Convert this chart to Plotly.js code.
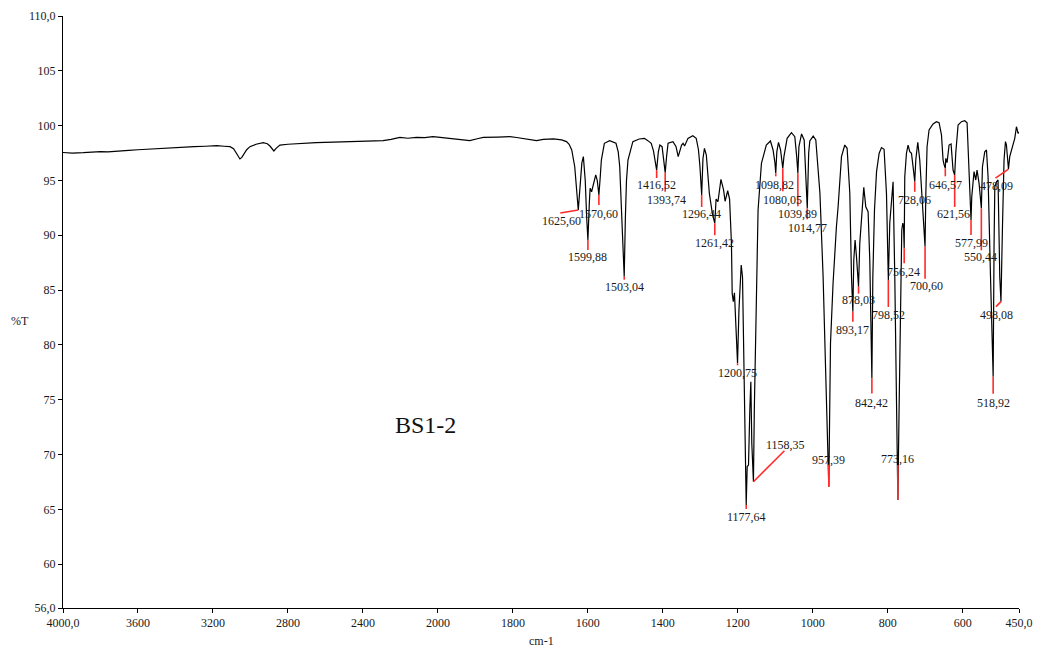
<!DOCTYPE html>
<html><head><meta charset="utf-8">
<script src="https://cdn.plot.ly/plotly-3.0.1.min.js"></script>
<style>html,body{margin:0;padding:0;background:#fff;} #chart{width:1044px;height:655px;}</style>
</head><body><div id="chart"></div>
<script>
// ---- spectrum data (wavenumber cm-1, %T) ----
const wavenumber = [
4000,3950,3892,3850,3800,3760,3714,3650,3600,3536,3480,3420,3358,3300,3240,3180,3140,3109,3090,3074,3064,3056,3046,3038,3020,3003,
2970,2932,2910,2896,2885,2875,2862,2843,2800,2736,2650,2558,2470,2380,2292,2250,2203,2160,2115,2070,2027,2000,
1968,1940,1915,1895,1879,1840,1808,1790,1772,1750,1737,1719,1701,1692,1670,1657,1650,1643,1635,1630,1625.6,1620,1616,1612,1607,1603,1599.88,
1596,1594,1590,1584,1579,1575,1570.6,1567,1564,1556,1542,1525,1519,1515,1510,1506,1503.04,1500,1497,1493,1480,1463,1449,1440,1431,1425,1420,1416.52,
1412,1408,1402,1398,1393.74,1390,1386,1373,1365,1359,1354,1350,1346,1342,1333,1320,1311,1305,1301,1296.44,1293,1289,1284,1276,1268,1264,1261.42,
1258,1253,1245,1238,1234,1227,1222,1217,1215,1212,1209,1205,1200.75,1197,1191,1187.5,1184,1180,1177.64,1175,1171.5,1168,1165.3,1162.7,1158.35,
1156,1152,1146,1137,1124,1113,1106,1101,1098.82,1096,1091.5,1086,1082.5,1080.05,1077,1068.5,1057,1048,1043,1039.89,1037,1030,1023,1017,1014.77,
1011,1008,999,992,981,972.5,965.3,957.39,952.8,946,937,932.5,923.5,914.7,908.5,901.3,896.8,893.17,890.7,887.2,883.5,878.03,874.7,870,864,858.7,
852.5,848,842.42,839.9,835.5,830,823,816.8,809.9,803.5,798.52,794.7,790.1,785.9,781.3,776.8,773.16,769.9,765.3,762.7,760,758,756.24,754.7,750.2,
745.9,741.3,736.8,731,728.06,725.3,720,714.7,709.3,705.9,702.5,700.6,698.5,695.2,689.9,679.2,670.2,663.2,656.8,652.5,649.5,646.57,645.3,641.9,
636.5,631.2,625.9,621.56,618.7,612.5,603.5,594.7,588.5,584,580.5,577.99,576,569.9,565.3,561.9,556.5,552.8,550.44,547.5,541.3,536.8,532.5,526,
521.9,518.92,516.5,514.5,510.1,505.9,501.3,498.08,494.1,489.9,486.1,483.5,480.5,478.09,474.7,470.1,465.9,461.3,456.8,452.5,450
];
const transmittance = [
97.55,97.5,97.53,97.58,97.62,97.6,97.69,97.75,97.8,97.87,97.92,97.98,98.05,98.08,98.12,98.17,98.12,98.08,97.9,97.48,97.1,96.96,97.1,97.3,97.8,98.08,
98.3,98.44,98.35,98.14,97.9,97.69,97.95,98.23,98.3,98.39,98.45,98.5,98.55,98.6,98.63,98.75,98.93,98.85,98.93,98.9,98.99,98.95,
98.84,98.7,98.63,98.8,98.93,98.95,98.99,98.92,98.84,98.7,98.63,98.75,98.78,98.8,98.7,98.54,98.3,97.78,96.25,94.0,92.3,94.8,96.6,97.17,95.0,91.5,89.57,
93.0,94.28,93.97,94.74,95.5,95.0,93.67,95.3,96.86,98.39,98.63,98.39,97.6,96.25,92.5,88.0,86.22,91.5,95.0,96.86,98.54,98.78,98.84,98.63,98.39,97.7,96.5,95.95,
97.6,98.23,98.08,97.0,95.71,97.2,98.39,98.54,98.1,97.17,97.8,98.23,98.39,98.14,98.84,99.08,98.84,97.8,96.25,93.67,97.0,97.93,97.32,93.83,92.0,91.5,91.09,
93.3,93.06,95.1,94.13,93.1,94.06,93.3,89.26,84.7,83.94,84.76,81.66,78.32,83.18,87.29,86.2,77.1,68.0,65.4,68.9,69.04,74.06,76.64,71.0,67.52,
74.06,83.18,92.3,96.56,98.23,98.6,97.78,96.6,95.65,97.6,98.48,97.78,96.6,96.11,97.17,98.84,99.36,98.99,97.2,95.65,98.08,99.24,98.69,94.5,92.46,
97.5,98.6,99.05,98.69,93.83,86.22,77.1,67.06,80.14,85.6,90.77,92.6,97.17,98.23,97.93,93.83,86.22,83.03,87.74,89.57,88.05,85.31,89.26,92.0,94.37,92.6,
92.15,87.74,76.94,86.2,92.3,95.8,97.48,98.0,97.84,93.83,85.92,91.1,93.5,94.88,86.2,74.06,65.85,74.06,86.2,90.48,91.1,90.8,88.81,95.34,97.48,
98.23,97.62,97.48,95.8,94.88,96.86,98.48,96.86,93.52,91.4,89.8,88.96,93.83,98.08,99.6,100.15,100.36,100.27,99.15,96.86,96.4,96.11,97.02,96.62,
98.23,98.32,95.95,95.5,97.48,100.06,100.36,100.45,100.27,96.86,93.0,91.39,93.52,95.8,95.04,95.95,94.74,93.2,92.46,96.25,97.62,97.78,95.34,86.22,
80.14,77.1,89.26,94.43,94.88,95.04,86.22,83.94,90.78,96.86,98.54,98.23,97.0,96.04,97.17,97.78,98.23,98.84,99.9,99.3,99.4
];

// ---- labelled peaks ----
const peakWn = [1625.60,1599.88,1570.60,1503.04,1416.52,1393.74,1296.44,1261.42,1200.75,1177.64,1158.35,1098.82,1080.05,1039.89,1014.77,
957.39,893.17,878.03,842.42,798.52,773.16,756.24,728.06,700.60,646.57,621.56,577.99,550.44,518.92,498.08,478.09];
const peakT = [92.3,89.57,93.67,86.22,95.95,95.71,93.67,91.09,78.32,65.4,67.52,95.65,96.11,95.65,92.46,
67.06,83.03,85.31,76.94,85.92,65.85,88.81,94.88,88.96,96.11,95.5,91.39,92.46,77.1,83.94,96.04];

// ---- axis ticks ----
const xTickValues = [4000,3600,3200,2800,2400,2000,1800,1600,1400,1200,1000,800,600,450];
const xTickLabels = ["4000,0","3600","3200","2800","2400","2000","1800","1600","1400","1200","1000","800","600","450,0"];
const yTickValues = [56,60,65,70,75,80,85,90,95,100,105,110];
const yTickLabels = ["56,0","60","65","70","75","80","85","90","95","100","105","110,0"];

// ---- label placement (pixels, screen down positive): [lineDx, lineDy, labelDx, labelDy] ----
const peakLabelOffsets = [
[-18,3,-17,11],[0,10,0,17],[0,10,0,19],[0,3,0,10],[0,8,0,15],[0,19,1,27],[0,12,0,19],[0,12,0,20],[0,2,0,10],[0,4,0,12],
[31,-31,32,-37],[0,3,-1,12],[0,23,0,32],[0,33,0,41],[0,11,0,20],[0,-22,0,-27],[0,10,0,18],[0,7,0,13],[0,15,0,25],[0,27,0,35],
[0,-35,0,-41],[0,15,-1,24],[0,10,0,18],[0,32,1,39],[0,8,0,17],[0,32,-1,39],[0,15,0,23],[0,42,-1,49],[0,17,0,26],[-5,5,-4,13],[-13,9,-12,17]
];

// The instrument scale is compressed by 2x above 2000 cm-1
function axisPos(wn){ return wn <= 2000 ? wn : 2000 + (wn - 2000) / 2; }

const FONT = "Liberation Serif, Times New Roman, serif";

const trace = {
  x: wavenumber.map(axisPos),
  y: transmittance,
  type: 'scatter', mode: 'lines',
  line: {color: '#000', width: 1.2},
  hoverinfo: 'skip'
};

const shapes = peakWn.map((wn, i) => ({
  type: 'line', xref: 'x', yref: 'y',
  xsizemode: 'pixel', xanchor: axisPos(wn), x0: 0, x1: peakLabelOffsets[i][0],
  ysizemode: 'pixel', yanchor: peakT[i], y0: 0, y1: -peakLabelOffsets[i][1],
  line: {color: '#ff2a2a', width: 1.6}
}));

const annotations = peakWn.map((wn, i) => ({
  x: axisPos(wn), y: peakT[i], xref: 'x', yref: 'y',
  text: wn.toFixed(2).replace('.', ','),
  showarrow: false, xanchor: 'center', yanchor: 'middle',
  xshift: peakLabelOffsets[i][2], yshift: -peakLabelOffsets[i][3],
  font: {family: FONT, size: 12, color: '#1a1a1a'}
}));

annotations.push({
  xref: 'paper', yref: 'paper', x: 0.3797, y: 0.309, text: 'BS1-2', showarrow: false,
  xanchor: 'center', yanchor: 'middle', font: {family: FONT, size: 24, color: '#111'}
});
annotations.push({
  xref: 'paper', yref: 'paper', x: -0.045, y: 0.4848, text: '%T', showarrow: false,
  xanchor: 'center', yanchor: 'middle', font: {family: FONT, size: 12, color: '#1a1a1a'}
});
annotations.push({
  xref: 'paper', yref: 'paper', x: 0.5, y: -0.055, text: 'cm-1', showarrow: false,
  xanchor: 'center', yanchor: 'middle', font: {family: FONT, size: 12, color: '#1a1a1a'}
});

const layout = {
  width: 1044, height: 655,
  margin: {l: 63, r: 25, t: 16, b: 47},
  paper_bgcolor: '#fff', plot_bgcolor: '#fff',
  showlegend: false,
  font: {family: FONT, size: 12, color: '#1a1a1a'},
  xaxis: {
    range: [axisPos(4000), axisPos(450)],
    tickmode: 'array', tickvals: xTickValues.map(axisPos), ticktext: xTickLabels,
    showline: true, linecolor: '#000', linewidth: 1,
    ticks: 'outside', ticklen: 4, tickcolor: '#000',
    showgrid: false, zeroline: false,
    tickfont: {family: FONT, size: 12, color: '#1a1a1a'}
  },
  yaxis: {
    range: [56, 110],
    tickmode: 'array', tickvals: yTickValues, ticktext: yTickLabels,
    showline: true, linecolor: '#000', linewidth: 1,
    ticks: 'outside', ticklen: 4, tickcolor: '#000',
    showgrid: false, zeroline: false,
    tickfont: {family: FONT, size: 12, color: '#1a1a1a'}
  },
  shapes: shapes,
  annotations: annotations
};

Plotly.newPlot('chart', [trace], layout, {displayModeBar: false, staticPlot: true});
</script>
</body></html>
